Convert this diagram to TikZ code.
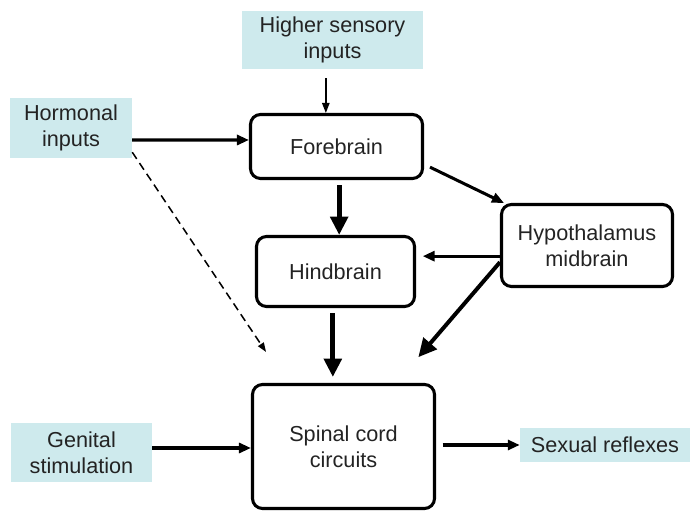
\documentclass[tikz,border=0pt]{standalone}
\usepackage{fontspec}
\setmainfont{Liberation Sans}
\usepackage{tikz}
\usetikzlibrary{positioning,arrows.meta,calc}
\definecolor{inputcyan}{RGB}{206,234,237}
\definecolor{labelgray}{RGB}{35,35,35}

\tikzset{
  brainbox/.style={draw,rounded corners=0.3cm,line width=2.6pt,align=center,inner sep=0pt},
  inputbox/.style={fill=inputcyan,align=center,inner sep=0pt},
  arr/.style={line width=2.6pt,-{Triangle[length=0.36cm,width=0.3cm]}},
  heavyarr/.style={line width=4.2pt,-{Triangle[length=0.55cm,width=0.52cm]}},
  thinarr/.style={line width=1.4pt,-{Triangle[length=0.3cm,width=0.22cm]}},
}

\begin{document}
\begin{tikzpicture}[x=0.03cm,y=-0.03cm,font=\fontsize{18.5}{22}\selectfont,text=labelgray]
\useasboundingbox (0,0) rectangle (691,511);
% inputs and outputs
\node[inputbox,minimum width=5.43cm,minimum height=1.74cm] (sensory) at (332.5,40) {Higher sensory\\inputs};
\node[inputbox,minimum width=3.66cm,minimum height=1.8cm] (hormonal) at (71,128) {Hormonal\\inputs};
\node[inputbox,minimum width=4.23cm,minimum height=1.77cm] (genital) at (81.5,452.5) {Genital\\stimulation};
\node[inputbox,minimum width=5.1cm,minimum height=1.02cm] (reflexes) at (605,445) {Sexual reflexes};
% brain levels
\node[brainbox,minimum width=5.16cm,minimum height=1.92cm] (forebrain) at (336.5,146.5) {Forebrain};
\node[brainbox,minimum width=4.74cm,minimum height=2.1cm] (hindbrain) at (335.5,271.5) {Hindbrain};
\node[brainbox,minimum width=5.13cm,minimum height=2.46cm] (hypo) at (587,245.5) {Hypothalamus\\midbrain};
\node[brainbox,minimum width=5.46cm,minimum height=3.72cm] (spinal) at (343.5,446.5) {Spinal cord\\circuits};

\coordinate (hyL) at ([yshift=-0.32cm]hypo.west);
\coordinate (geR) at ([yshift=0.135cm]genital.east);

\draw[thinarr,shorten <=0.27cm] ([xshift=-0.2cm]sensory.south) -- ([xshift=-0.2cm]sensory.south |- forebrain.north);
\draw[arr] ([yshift=-0.36cm]hormonal.east) -- ([yshift=0.195cm]forebrain.west);
\draw[line width=1.3pt,dash pattern=on 0.24cm off 0.15cm,-{Triangle[length=0.28cm,width=0.2cm]},shorten >=1.12cm]
  ([yshift=0.18cm]hormonal.south east) -- ([xshift=-1.7cm]spinal.north);
\draw[arr] ([shift={(0.18cm,-0.62cm)}]forebrain.east) -- ([xshift=0.12cm]hypo.north west);
\draw[heavyarr,shorten <=0.15cm] ([xshift=0.08cm]forebrain.south) -- ([xshift=0.08cm]forebrain.south |- hindbrain.north);
\draw[arr,shorten >=0.2cm] (hyL) -- (hyL -| hindbrain.east);
\draw[heavyarr,line width=3.4pt,shorten >=1.02cm] ([yshift=-0.5cm]hypo.west) -- ([xshift=1.58cm]spinal.north);
\draw[heavyarr,shorten <=0.15cm,shorten >=0.18cm] ([xshift=-0.08cm]hindbrain.south) -- ([xshift=-0.08cm]hindbrain.south |- spinal.north);
\draw[arr] (geR) -- (geR -| spinal.west);
\draw[arr,shorten <=0.2cm] ([yshift=0.045cm]spinal.east) -- ([yshift=0.045cm]spinal.east -| reflexes.west);
\end{tikzpicture}
\end{document}
